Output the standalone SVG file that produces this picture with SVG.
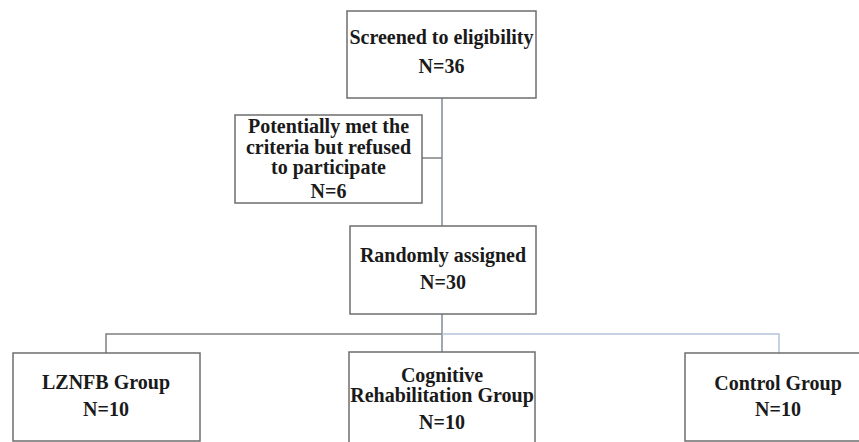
<svg xmlns="http://www.w3.org/2000/svg" width="859" height="442" viewBox="0 0 859 442">
<style>
.box{fill:#fff;stroke:#6e6e6e;stroke-width:1.5}
.t{font-family:"Liberation Serif","Times New Roman",serif;font-weight:bold;font-size:20px;fill:#1a1a1a;text-anchor:middle}
.c{fill:none;stroke:#7f8a9c;stroke-width:1.5}
.cg{fill:none;stroke:#808080;stroke-width:1.5}
.cb{fill:none;stroke:#b4c4d8;stroke-width:1.5}
</style>
<rect width="859" height="442" fill="#fff"/>
<g id="connectors">
<line class="c" x1="442" y1="98" x2="442" y2="226"/>
<line class="cg" x1="422" y1="158" x2="442" y2="158"/>
<line class="c" x1="442" y1="314" x2="442" y2="352"/>
<polyline class="cg" points="106,353 106,334 442,334"/>
<polyline class="cb" points="442,334 779,334 779,353"/>
</g>
<g id="screened">
<rect class="box" x="347" y="11" width="189" height="87"/>
<text class="t" x="441.5" y="44">Screened to eligibility</text>
<text class="t" x="441.5" y="73">N=36</text>
</g>
<g id="refused">
<rect class="box" x="235" y="115" width="187" height="88"/>
<text class="t" x="328.5" y="133">Potentially met the</text>
<text class="t" x="328.5" y="154">criteria but refused</text>
<text class="t" x="328.5" y="174">to participate</text>
<text class="t" x="328.5" y="198">N=6</text>
</g>
<g id="randomized">
<rect class="box" x="350" y="226" width="186" height="88"/>
<text class="t" x="443" y="262">Randomly assigned</text>
<text class="t" x="443" y="289">N=30</text>
</g>
<g id="lznfb">
<rect class="box" x="13" y="353" width="187" height="88"/>
<text class="t" x="106" y="389">LZNFB Group</text>
<text class="t" x="106" y="416">N=10</text>
</g>
<g id="cognitive">
<rect class="box" x="349" y="352" width="186" height="96"/>
<text class="t" x="442" y="382">Cognitive</text>
<text class="t" x="442" y="402">Rehabilitation Group</text>
<text class="t" x="442" y="429">N=10</text>
</g>
<g id="control">
<rect class="box" x="685" y="353" width="190" height="88"/>
<text class="t" x="778" y="390">Control Group</text>
<text class="t" x="778" y="416">N=10</text>
</g>
</svg>
